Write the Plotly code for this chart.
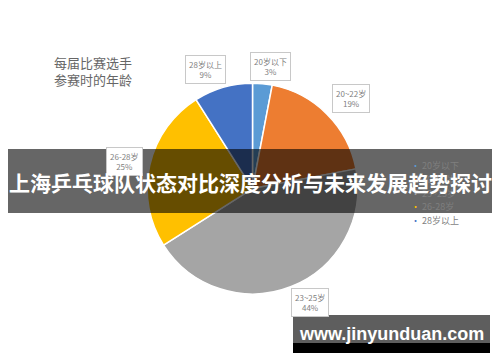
import plotly.graph_objects as go

# Age groups of players at each competition
categories = ["20岁以下", "20~22岁", "23~25岁", "26-28岁", "28岁以上"]
shares = [3, 19, 44, 25, 9]
colors = ["#5B9BD5", "#ED7D31", "#A5A5A5", "#FFC000", "#4472C4"]

# callout label placement (paper coordinates) for each slice
label_pos = [(0.540, 0.815), (0.702, 0.728), (0.620, 0.165), (0.248, 0.555), (0.410, 0.807)]

title_lines = ["每届比赛选手", "参赛时的年龄"]
banner_text = "上海乒乓球队状态对比深度分析与未来发展趋势探讨"
site_text = "www.jinyunduan.com"

W, H = 500, 362
CJK = "Noto Sans CJK SC"

fig = go.Figure(go.Pie(
    labels=categories,
    values=shares,
    sort=False,
    direction="clockwise",
    rotation=0,
    marker=dict(colors=colors, line=dict(color="white", width=1.5)),
    textinfo="none",
    hoverinfo="label+percent",
    showlegend=False,
    domain=dict(x=[0.294, 0.716], y=[0.188, 0.770]),
))

annotations = []

# chart title
annotations.append(dict(
    x=0.104, y=1 - 71 / H, xref="paper", yref="paper", xanchor="left", yanchor="middle",
    text="<br>".join(title_lines), showarrow=False, align="left",
    font=dict(family=CJK, size=13, color="#666666"),
))

# slice callouts
for cat, val, (px, py) in zip(categories, shares, label_pos):
    annotations.append(dict(
        x=px, y=py, xref="paper", yref="paper", xanchor="center", yanchor="middle",
        text=f"{cat}<br>{val}%", showarrow=False, align="center",
        font=dict(family=CJK, size=8, color="#7F7F7F"),
        bgcolor="white", bordercolor="#C8C8C8", borderwidth=1, borderpad=3,
    ))

# legend
leg_y0, leg_step = 1 - 165 / H, 14 / H
for i, (cat, col) in enumerate(zip(categories, colors)):
    annotations.append(dict(
        x=0.818, y=leg_y0 - i * leg_step, xref="paper", yref="paper",
        xanchor="left", yanchor="middle", showarrow=False,
        text=f"<span style='color:{col}'>•</span> {cat}",
        font=dict(family=CJK, size=9, color="#7F7F7F"),
    ))

# banner text
annotations.append(dict(
    x=0.5, y=1 - 182 / H, xref="paper", yref="paper", xanchor="center", yanchor="middle",
    text=f"<b>{banner_text}</b>", showarrow=False,
    font=dict(family=CJK, size=21, color="white"),
))

# site watermark
annotations.append(dict(
    x=(293 + 490) / 2 / W, y=1 - 334 / H, xref="paper", yref="paper",
    xanchor="center", yanchor="middle", showarrow=False,
    text=f"<b>{site_text}</b>",
    font=dict(family="Liberation Sans", size=18, color="white"),
))

shapes = [
    dict(type="rect", xref="paper", yref="paper", layer="above",
         x0=8 / W, x1=492 / W, y0=1 - 213 / H, y1=1 - 149 / H,
         fillcolor="rgba(0,0,0,0.6)", line=dict(width=0)),
    dict(type="rect", xref="paper", yref="paper", layer="above",
         x0=293 / W, x1=490 / W, y0=1 - 343 / H, y1=1 - 315 / H,
         fillcolor="#5E5E5E", line=dict(width=0)),
    dict(type="rect", xref="paper", yref="paper", layer="above",
         x0=293 / W, x1=490 / W, y0=1 - 353 / H, y1=1 - 343 / H,
         fillcolor="#000000", line=dict(width=0)),
]

fig.update_layout(
    width=W, height=H,
    margin=dict(l=0, r=0, t=0, b=0),
    paper_bgcolor="white", plot_bgcolor="white",
    annotations=annotations, shapes=shapes,
)

fig.write_html("out.html")
